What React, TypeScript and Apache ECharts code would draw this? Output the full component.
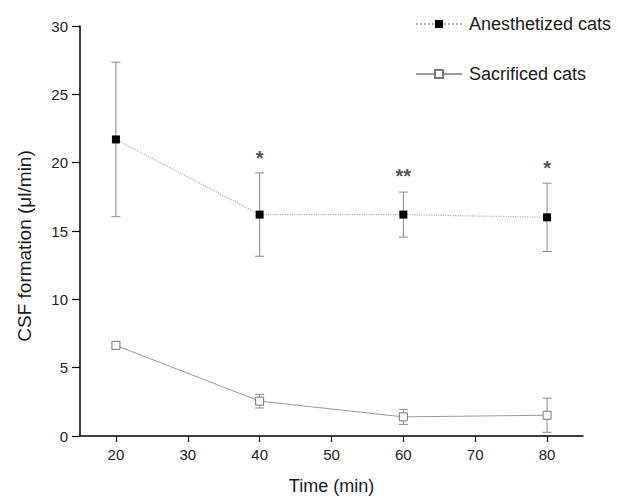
import React, { useEffect, useRef } from "react";
import * as echarts from "echarts";

const timeMin = [20, 40, 60, 80];
const anesMean = [21.7, 16.2, 16.2, 16.0];
const anesErr = [5.65, 3.05, 1.65, 2.5];
const sacMean = [6.63, 2.55, 1.4, 1.52];
const sacErr = [0.2, 0.5, 0.55, 1.25];
const starTime = [40, 60, 80];
const starY = [20.7, 19.4, 20.0];
const starText = ["*", "**", "*"];
const xTicks = [20, 30, 40, 50, 60, 70, 80];

const FONT = "'Liberation Sans', Arial, Helvetica, sans-serif";

function errorData(mean: number[], err: number[]) {
  return timeMin.map((x, i) => [x, mean[i] - err[i], mean[i] + err[i]]);
}

function errorRender(color: string) {
  return (params: any, api: any) => {
    const x = api.value(0);
    const lo = api.coord([x, api.value(1)]);
    const hi = api.coord([x, api.value(2)]);
    const w = 4.5;
    const style = { stroke: color, lineWidth: 1 };
    return {
      type: "group",
      children: [
        { type: "line", shape: { x1: hi[0], y1: hi[1], x2: lo[0], y2: lo[1] }, style },
        { type: "line", shape: { x1: hi[0] - w, y1: hi[1], x2: hi[0] + w, y2: hi[1] }, style },
        { type: "line", shape: { x1: lo[0] - w, y1: lo[1], x2: lo[0] + w, y2: lo[1] }, style },
      ],
    };
  };
}

const legendBase = {
  orient: "vertical",
  left: 410,
  itemWidth: 46,
  itemHeight: 10,
  textStyle: { fontSize: 18, color: "#1a1a1a", fontFamily: FONT, padding: [0, 0, 0, 2] },
};

export default function App() {
  const ref = useRef<HTMLDivElement>(null);
  useEffect(() => {
    if (!ref.current) return;
    const chart = echarts.init(ref.current, undefined, { renderer: "svg" });
    chart.setOption({
      animation: false,
      backgroundColor: "#fff",
      textStyle: { fontFamily: FONT },
      grid: { left: 80, right: 35, top: 26, bottom: 63.5, containLabel: false },
      legend: [
        { ...legendBase, top: 10, data: ["Anesthetized cats"] },
        { ...legendBase, top: 60, data: ["Sacrificed cats"] },
      ],
      xAxis: {
        type: "value",
        min: 15,
        max: 85,
        name: "Time (min)",
        nameLocation: "middle",
        nameGap: 41,
        nameTextStyle: { fontSize: 18, color: "#1a1a1a", fontFamily: FONT },
        axisLine: { show: true, onZero: false, lineStyle: { color: "#000", width: 1.5 } },
        axisTick: { show: true, length: 6, customValues: xTicks, lineStyle: { color: "#000", width: 1.2 } },
        axisLabel: { fontSize: 15, color: "#222", margin: 11, customValues: xTicks, fontFamily: FONT },
        splitLine: { show: false },
      },
      yAxis: {
        type: "value",
        min: 0,
        max: 30,
        interval: 5,
        name: "CSF formation (\u03bcl/min)",
        nameLocation: "middle",
        nameGap: 46,
        nameTextStyle: { fontSize: 19, color: "#1a1a1a", fontFamily: FONT, padding: [0, 30, 0, 0] },
        axisLine: { show: true, lineStyle: { color: "#000", width: 1.5 } },
        axisTick: { show: true, length: 8, lineStyle: { color: "#000", width: 1.2 } },
        axisLabel: { fontSize: 15, color: "#222", margin: 12, fontFamily: FONT },
        splitLine: { show: false },
      },
      series: [
        {
          type: "custom",
          name: "anesErr",
          renderItem: errorRender("#8a8a8a"),
          data: errorData(anesMean, anesErr),
          z: 1,
          silent: true,
        },
        {
          type: "custom",
          name: "sacErr",
          renderItem: errorRender("#8a8a8a"),
          data: errorData(sacMean, sacErr),
          z: 1,
          silent: true,
        },
        {
          type: "line",
          name: "Anesthetized cats",
          data: timeMin.map((x, i) => [x, anesMean[i]]),
          symbol: "rect",
          symbolSize: 8,
          lineStyle: { type: "dotted", color: "#b0b0b0", width: 1.2 },
          itemStyle: { color: "#000" },
          z: 3,
        },
        {
          type: "line",
          name: "Sacrificed cats",
          data: timeMin.map((x, i) => [x, sacMean[i]]),
          symbol: "rect",
          symbolSize: 8,
          lineStyle: { type: "solid", color: "#9a9a9a", width: 1 },
          itemStyle: { color: "#fff", borderColor: "#777", borderWidth: 1 },
          z: 3,
        },
        {
          type: "scatter",
          name: "stars",
          data: starTime.map((x, i) => [x, starY[i]]),
          symbolSize: 1,
          itemStyle: { color: "transparent" },
          silent: true,
          label: {
            show: true,
            position: "inside",
            offset: [0, 5],
            fontSize: 20,
            fontWeight: "bold",
            color: "#222",
            fontFamily: FONT,
            formatter: (p: any) => starText[p.dataIndex],
          },
          z: 4,
        },
      ],
    });
    return () => chart.dispose();
  }, []);
  return (
    <div
      ref={ref}
      style={{ position: "fixed", left: 0, top: 0, width: 618, height: 500 }}
    />
  );
}
